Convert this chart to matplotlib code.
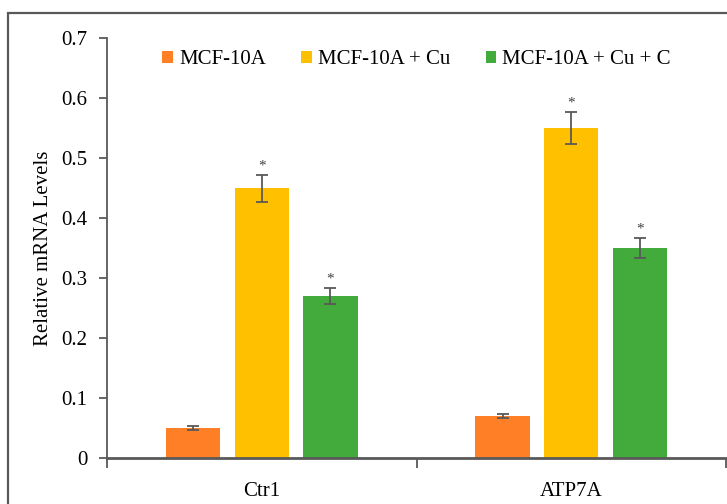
import matplotlib
matplotlib.use("Agg")
import matplotlib.pyplot as plt
from matplotlib.patches import Rectangle
import numpy as np

plt.rcParams['font.family'] = ['Liberation Serif', 'DejaVu Serif']

categories = ["Ctr1", "ATP7A"]
series = ["MCF-10A", "MCF-10A + Cu", "MCF-10A + Cu + C"]
values = {
    "MCF-10A": [0.05, 0.07],
    "MCF-10A + Cu": [0.45, 0.55],
    "MCF-10A + Cu + C": [0.27, 0.35],
}
errors = {
    "MCF-10A": [0.003, 0.004],
    "MCF-10A + Cu": [0.0225, 0.027],
    "MCF-10A + Cu + C": [0.014, 0.017],
}
significant = {
    "MCF-10A": [False, False],
    "MCF-10A + Cu": [True, True],
    "MCF-10A + Cu + C": [True, True],
}
colors = ["#FF7F27", "#FFC000", "#43AB3C"]
yticks = [0, 0.1, 0.2, 0.3, 0.4, 0.5, 0.6, 0.7]
ytick_labels = ["0", "0.1", "0.2", "0.3", "0.4", "0.5", "0.6", "0.7"]

W, H = 727, 504
fig = plt.figure(figsize=(W / 100, H / 100), dpi=100)
ax = fig.add_axes([107 / W, (H - 458) / H, (726 - 107) / W, (458 - 38) / H])

x = np.arange(len(categories))
bw = 0.175
pitch = 0.222
axc = "#595959"
for i, s in enumerate(series):
    xs = x + (i - 1) * pitch
    ax.bar(xs, values[s], width=bw, color=colors[i], label=s, zorder=2)
    ax.errorbar(xs, values[s], yerr=errors[s], fmt="none", ecolor=axc,
                elinewidth=1.3, capsize=4.5, capthick=1.3, zorder=3)
    for xi, v, e, sig in zip(xs, values[s], errors[s], significant[s]):
        if sig:
            ax.text(xi, v + e + 0.004, "*", ha="center", va="bottom",
                    fontsize=11, color="#404040")

ax.set_xlim(-0.5, 1.5)
ax.set_ylim(0, 0.7)
ax.set_yticks(yticks)
ax.set_yticklabels(ytick_labels)
ax.set_xticks(x)
ax.set_xticklabels(categories)
ax.set_xticks([-0.5, 0.5, 1.5], minor=True)
ax.tick_params(axis="x", which="major", length=0, pad=17, labelsize=15)
ax.tick_params(axis="x", which="minor", length=7, width=1.3, color=axc, direction="out")
ax.tick_params(axis="y", length=6, width=1.3, color=axc, direction="out", pad=8, labelsize=15)
for sp in ["top", "right"]:
    ax.spines[sp].set_visible(False)
ax.spines["left"].set_color(axc)
ax.spines["left"].set_linewidth(1.3)
ax.spines["bottom"].set_color(axc)
ax.spines["bottom"].set_linewidth(2.0)
ax.set_ylabel("Relative mRNA Levels", fontsize=15, labelpad=6)

leg = ax.legend(loc="upper center", bbox_to_anchor=(0.5, 1.015), ncol=3, frameon=False,
                fontsize=15, handlelength=0.5, handleheight=0.5, handletextpad=0.3,
                columnspacing=1.7)

fig.patches.append(Rectangle((8 / W, -0.1), 1.2, (H - 13) / H + 0.1,
                             transform=fig.transFigure, fill=False,
                             edgecolor=axc, linewidth=1.6))
fig.savefig("out.png", dpi=100)
